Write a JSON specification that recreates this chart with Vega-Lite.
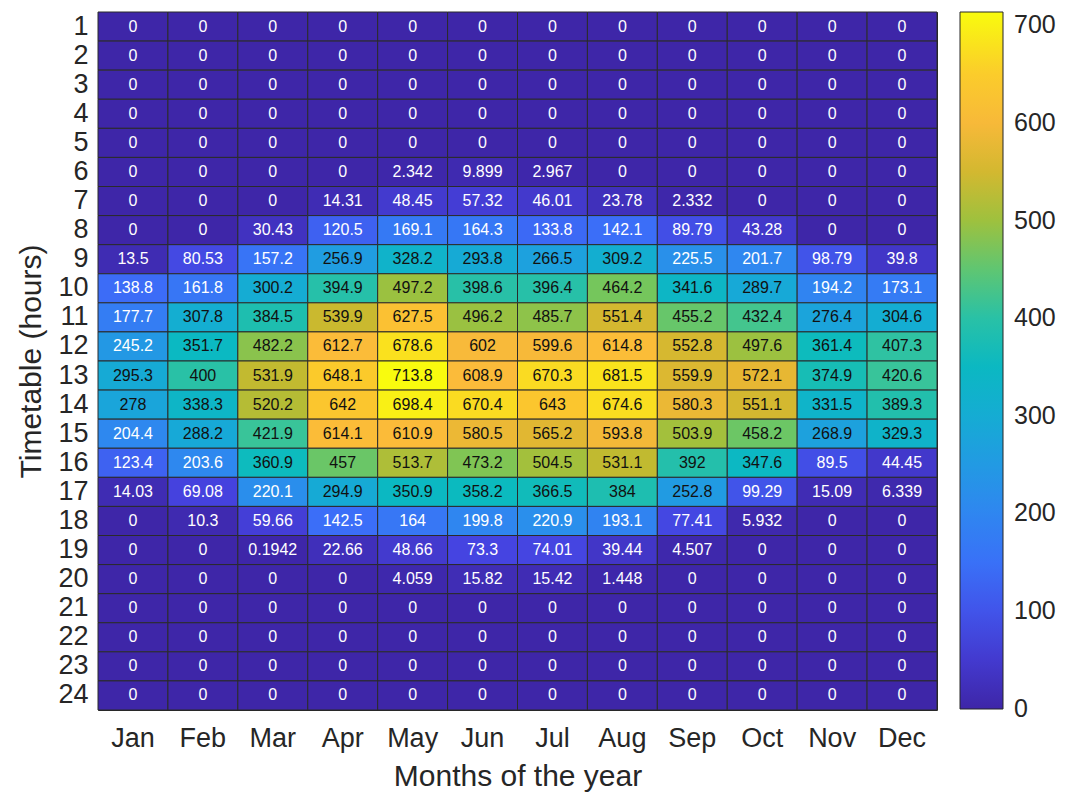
{
  "$schema": "https://vega.github.io/schema/vega-lite/v6.json",
  "width": 839,
  "height": 698,
  "autosize": {"type": "none"},
  "padding": {"left": 98, "top": 12, "right": 136, "bottom": 82},
  "background": "white",
  "config": {
    "font": "Liberation Sans",
    "view": {"stroke": "#262626", "strokeWidth": 1}
  },
  "data": {
    "values": [
      {"h":1,"m":"Jan","v":0},{"h":1,"m":"Feb","v":0},{"h":1,"m":"Mar","v":0},{"h":1,"m":"Apr","v":0},{"h":1,"m":"May","v":0},{"h":1,"m":"Jun","v":0},{"h":1,"m":"Jul","v":0},{"h":1,"m":"Aug","v":0},{"h":1,"m":"Sep","v":0},{"h":1,"m":"Oct","v":0},{"h":1,"m":"Nov","v":0},{"h":1,"m":"Dec","v":0},
      {"h":2,"m":"Jan","v":0},{"h":2,"m":"Feb","v":0},{"h":2,"m":"Mar","v":0},{"h":2,"m":"Apr","v":0},{"h":2,"m":"May","v":0},{"h":2,"m":"Jun","v":0},{"h":2,"m":"Jul","v":0},{"h":2,"m":"Aug","v":0},{"h":2,"m":"Sep","v":0},{"h":2,"m":"Oct","v":0},{"h":2,"m":"Nov","v":0},{"h":2,"m":"Dec","v":0},
      {"h":3,"m":"Jan","v":0},{"h":3,"m":"Feb","v":0},{"h":3,"m":"Mar","v":0},{"h":3,"m":"Apr","v":0},{"h":3,"m":"May","v":0},{"h":3,"m":"Jun","v":0},{"h":3,"m":"Jul","v":0},{"h":3,"m":"Aug","v":0},{"h":3,"m":"Sep","v":0},{"h":3,"m":"Oct","v":0},{"h":3,"m":"Nov","v":0},{"h":3,"m":"Dec","v":0},
      {"h":4,"m":"Jan","v":0},{"h":4,"m":"Feb","v":0},{"h":4,"m":"Mar","v":0},{"h":4,"m":"Apr","v":0},{"h":4,"m":"May","v":0},{"h":4,"m":"Jun","v":0},{"h":4,"m":"Jul","v":0},{"h":4,"m":"Aug","v":0},{"h":4,"m":"Sep","v":0},{"h":4,"m":"Oct","v":0},{"h":4,"m":"Nov","v":0},{"h":4,"m":"Dec","v":0},
      {"h":5,"m":"Jan","v":0},{"h":5,"m":"Feb","v":0},{"h":5,"m":"Mar","v":0},{"h":5,"m":"Apr","v":0},{"h":5,"m":"May","v":0},{"h":5,"m":"Jun","v":0},{"h":5,"m":"Jul","v":0},{"h":5,"m":"Aug","v":0},{"h":5,"m":"Sep","v":0},{"h":5,"m":"Oct","v":0},{"h":5,"m":"Nov","v":0},{"h":5,"m":"Dec","v":0},
      {"h":6,"m":"Jan","v":0},{"h":6,"m":"Feb","v":0},{"h":6,"m":"Mar","v":0},{"h":6,"m":"Apr","v":0},{"h":6,"m":"May","v":2.342},{"h":6,"m":"Jun","v":9.899},{"h":6,"m":"Jul","v":2.967},{"h":6,"m":"Aug","v":0},{"h":6,"m":"Sep","v":0},{"h":6,"m":"Oct","v":0},{"h":6,"m":"Nov","v":0},{"h":6,"m":"Dec","v":0},
      {"h":7,"m":"Jan","v":0},{"h":7,"m":"Feb","v":0},{"h":7,"m":"Mar","v":0},{"h":7,"m":"Apr","v":14.31},{"h":7,"m":"May","v":48.45},{"h":7,"m":"Jun","v":57.32},{"h":7,"m":"Jul","v":46.01},{"h":7,"m":"Aug","v":23.78},{"h":7,"m":"Sep","v":2.332},{"h":7,"m":"Oct","v":0},{"h":7,"m":"Nov","v":0},{"h":7,"m":"Dec","v":0},
      {"h":8,"m":"Jan","v":0},{"h":8,"m":"Feb","v":0},{"h":8,"m":"Mar","v":30.43},{"h":8,"m":"Apr","v":120.5},{"h":8,"m":"May","v":169.1},{"h":8,"m":"Jun","v":164.3},{"h":8,"m":"Jul","v":133.8},{"h":8,"m":"Aug","v":142.1},{"h":8,"m":"Sep","v":89.79},{"h":8,"m":"Oct","v":43.28},{"h":8,"m":"Nov","v":0},{"h":8,"m":"Dec","v":0},
      {"h":9,"m":"Jan","v":13.5},{"h":9,"m":"Feb","v":80.53},{"h":9,"m":"Mar","v":157.2},{"h":9,"m":"Apr","v":256.9},{"h":9,"m":"May","v":328.2},{"h":9,"m":"Jun","v":293.8},{"h":9,"m":"Jul","v":266.5},{"h":9,"m":"Aug","v":309.2},{"h":9,"m":"Sep","v":225.5},{"h":9,"m":"Oct","v":201.7},{"h":9,"m":"Nov","v":98.79},{"h":9,"m":"Dec","v":39.8},
      {"h":10,"m":"Jan","v":138.8},{"h":10,"m":"Feb","v":161.8},{"h":10,"m":"Mar","v":300.2},{"h":10,"m":"Apr","v":394.9},{"h":10,"m":"May","v":497.2},{"h":10,"m":"Jun","v":398.6},{"h":10,"m":"Jul","v":396.4},{"h":10,"m":"Aug","v":464.2},{"h":10,"m":"Sep","v":341.6},{"h":10,"m":"Oct","v":289.7},{"h":10,"m":"Nov","v":194.2},{"h":10,"m":"Dec","v":173.1},
      {"h":11,"m":"Jan","v":177.7},{"h":11,"m":"Feb","v":307.8},{"h":11,"m":"Mar","v":384.5},{"h":11,"m":"Apr","v":539.9},{"h":11,"m":"May","v":627.5},{"h":11,"m":"Jun","v":496.2},{"h":11,"m":"Jul","v":485.7},{"h":11,"m":"Aug","v":551.4},{"h":11,"m":"Sep","v":455.2},{"h":11,"m":"Oct","v":432.4},{"h":11,"m":"Nov","v":276.4},{"h":11,"m":"Dec","v":304.6},
      {"h":12,"m":"Jan","v":245.2},{"h":12,"m":"Feb","v":351.7},{"h":12,"m":"Mar","v":482.2},{"h":12,"m":"Apr","v":612.7},{"h":12,"m":"May","v":678.6},{"h":12,"m":"Jun","v":602},{"h":12,"m":"Jul","v":599.6},{"h":12,"m":"Aug","v":614.8},{"h":12,"m":"Sep","v":552.8},{"h":12,"m":"Oct","v":497.6},{"h":12,"m":"Nov","v":361.4},{"h":12,"m":"Dec","v":407.3},
      {"h":13,"m":"Jan","v":295.3},{"h":13,"m":"Feb","v":400},{"h":13,"m":"Mar","v":531.9},{"h":13,"m":"Apr","v":648.1},{"h":13,"m":"May","v":713.8},{"h":13,"m":"Jun","v":608.9},{"h":13,"m":"Jul","v":670.3},{"h":13,"m":"Aug","v":681.5},{"h":13,"m":"Sep","v":559.9},{"h":13,"m":"Oct","v":572.1},{"h":13,"m":"Nov","v":374.9},{"h":13,"m":"Dec","v":420.6},
      {"h":14,"m":"Jan","v":278},{"h":14,"m":"Feb","v":338.3},{"h":14,"m":"Mar","v":520.2},{"h":14,"m":"Apr","v":642},{"h":14,"m":"May","v":698.4},{"h":14,"m":"Jun","v":670.4},{"h":14,"m":"Jul","v":643},{"h":14,"m":"Aug","v":674.6},{"h":14,"m":"Sep","v":580.3},{"h":14,"m":"Oct","v":551.1},{"h":14,"m":"Nov","v":331.5},{"h":14,"m":"Dec","v":389.3},
      {"h":15,"m":"Jan","v":204.4},{"h":15,"m":"Feb","v":288.2},{"h":15,"m":"Mar","v":421.9},{"h":15,"m":"Apr","v":614.1},{"h":15,"m":"May","v":610.9},{"h":15,"m":"Jun","v":580.5},{"h":15,"m":"Jul","v":565.2},{"h":15,"m":"Aug","v":593.8},{"h":15,"m":"Sep","v":503.9},{"h":15,"m":"Oct","v":458.2},{"h":15,"m":"Nov","v":268.9},{"h":15,"m":"Dec","v":329.3},
      {"h":16,"m":"Jan","v":123.4},{"h":16,"m":"Feb","v":203.6},{"h":16,"m":"Mar","v":360.9},{"h":16,"m":"Apr","v":457},{"h":16,"m":"May","v":513.7},{"h":16,"m":"Jun","v":473.2},{"h":16,"m":"Jul","v":504.5},{"h":16,"m":"Aug","v":531.1},{"h":16,"m":"Sep","v":392},{"h":16,"m":"Oct","v":347.6},{"h":16,"m":"Nov","v":89.5},{"h":16,"m":"Dec","v":44.45},
      {"h":17,"m":"Jan","v":14.03},{"h":17,"m":"Feb","v":69.08},{"h":17,"m":"Mar","v":220.1},{"h":17,"m":"Apr","v":294.9},{"h":17,"m":"May","v":350.9},{"h":17,"m":"Jun","v":358.2},{"h":17,"m":"Jul","v":366.5},{"h":17,"m":"Aug","v":384},{"h":17,"m":"Sep","v":252.8},{"h":17,"m":"Oct","v":99.29},{"h":17,"m":"Nov","v":15.09},{"h":17,"m":"Dec","v":6.339},
      {"h":18,"m":"Jan","v":0},{"h":18,"m":"Feb","v":10.3},{"h":18,"m":"Mar","v":59.66},{"h":18,"m":"Apr","v":142.5},{"h":18,"m":"May","v":164},{"h":18,"m":"Jun","v":199.8},{"h":18,"m":"Jul","v":220.9},{"h":18,"m":"Aug","v":193.1},{"h":18,"m":"Sep","v":77.41},{"h":18,"m":"Oct","v":5.932},{"h":18,"m":"Nov","v":0},{"h":18,"m":"Dec","v":0},
      {"h":19,"m":"Jan","v":0},{"h":19,"m":"Feb","v":0},{"h":19,"m":"Mar","v":0.1942},{"h":19,"m":"Apr","v":22.66},{"h":19,"m":"May","v":48.66},{"h":19,"m":"Jun","v":73.3},{"h":19,"m":"Jul","v":74.01},{"h":19,"m":"Aug","v":39.44},{"h":19,"m":"Sep","v":4.507},{"h":19,"m":"Oct","v":0},{"h":19,"m":"Nov","v":0},{"h":19,"m":"Dec","v":0},
      {"h":20,"m":"Jan","v":0},{"h":20,"m":"Feb","v":0},{"h":20,"m":"Mar","v":0},{"h":20,"m":"Apr","v":0},{"h":20,"m":"May","v":4.059},{"h":20,"m":"Jun","v":15.82},{"h":20,"m":"Jul","v":15.42},{"h":20,"m":"Aug","v":1.448},{"h":20,"m":"Sep","v":0},{"h":20,"m":"Oct","v":0},{"h":20,"m":"Nov","v":0},{"h":20,"m":"Dec","v":0},
      {"h":21,"m":"Jan","v":0},{"h":21,"m":"Feb","v":0},{"h":21,"m":"Mar","v":0},{"h":21,"m":"Apr","v":0},{"h":21,"m":"May","v":0},{"h":21,"m":"Jun","v":0},{"h":21,"m":"Jul","v":0},{"h":21,"m":"Aug","v":0},{"h":21,"m":"Sep","v":0},{"h":21,"m":"Oct","v":0},{"h":21,"m":"Nov","v":0},{"h":21,"m":"Dec","v":0},
      {"h":22,"m":"Jan","v":0},{"h":22,"m":"Feb","v":0},{"h":22,"m":"Mar","v":0},{"h":22,"m":"Apr","v":0},{"h":22,"m":"May","v":0},{"h":22,"m":"Jun","v":0},{"h":22,"m":"Jul","v":0},{"h":22,"m":"Aug","v":0},{"h":22,"m":"Sep","v":0},{"h":22,"m":"Oct","v":0},{"h":22,"m":"Nov","v":0},{"h":22,"m":"Dec","v":0},
      {"h":23,"m":"Jan","v":0},{"h":23,"m":"Feb","v":0},{"h":23,"m":"Mar","v":0},{"h":23,"m":"Apr","v":0},{"h":23,"m":"May","v":0},{"h":23,"m":"Jun","v":0},{"h":23,"m":"Jul","v":0},{"h":23,"m":"Aug","v":0},{"h":23,"m":"Sep","v":0},{"h":23,"m":"Oct","v":0},{"h":23,"m":"Nov","v":0},{"h":23,"m":"Dec","v":0},
      {"h":24,"m":"Jan","v":0},{"h":24,"m":"Feb","v":0},{"h":24,"m":"Mar","v":0},{"h":24,"m":"Apr","v":0},{"h":24,"m":"May","v":0},{"h":24,"m":"Jun","v":0},{"h":24,"m":"Jul","v":0},{"h":24,"m":"Aug","v":0},{"h":24,"m":"Sep","v":0},{"h":24,"m":"Oct","v":0},{"h":24,"m":"Nov","v":0},{"h":24,"m":"Dec","v":0}
    ]
  },
  "encoding": {
    "x": {
      "field": "m",
      "type": "nominal",
      "sort": ["Jan","Feb","Mar","Apr","May","Jun","Jul","Aug","Sep","Oct","Nov","Dec"],
      "scale": {"paddingInner": 0, "paddingOuter": 0},
      "axis": {
        "title": "Months of the year",
        "labelAngle": 0,
        "ticks": false,
        "domain": false,
        "labelFontSize": 27,
        "labelColor": "#262626",
        "labelPadding": 15,
        "titleFontSize": 30,
        "titleFontWeight": "normal",
        "titleColor": "#262626",
        "titlePadding": 10
      }
    },
    "y": {
      "field": "h",
      "type": "ordinal",
      "scale": {"paddingInner": 0, "paddingOuter": 0},
      "axis": {
        "title": "Timetable (hours)",
        "ticks": false,
        "domain": false,
        "labelFontSize": 27,
        "labelColor": "#262626",
        "labelPadding": 10,
        "titleFontSize": 30,
        "titleFontWeight": "normal",
        "titleColor": "#262626",
        "titlePadding": 11
      }
    }
  },
  "layer": [
    {
      "mark": {"type": "rect", "stroke": "#2b2b2b", "strokeWidth": 1},
      "encoding": {
        "color": {
          "field": "v",
          "type": "quantitative",
          "scale": {
            "domain": [-0.5, 71.38, 142.76, 214.14, 285.52, 356.9, 428.28, 464, 499.66, 535.35, 571.04, 606.73, 642.42, 713.8],
            "range": ["#3e26a8", "#4543e0", "#3b6ef8", "#2c8cee", "#18a8d8", "#0abac0", "#3ec595", "#75c65c", "#9ec13e", "#c6b92e", "#e6b733", "#fbba3b", "#fbc62e", "#f9fb0e"],
            "interpolate": "rgb"
          },
          "legend": {
            "orient": "none",
            "legendX": 862,
            "legendY": 0,
            "direction": "vertical",
            "title": null,
            "gradientLength": 697,
            "gradientThickness": 43,
            "gradientStrokeColor": "#262626",
            "gradientStrokeWidth": 1,
            "values": [0, 100, 200, 300, 400, 500, 600, 700],
            "labelFontSize": 25,
            "labelColor": "#262626",
            "labelOffset": 11,
            "labelBaseline": "middle",
            "labelOverlap": false
          }
        }
      }
    },
    {
      "mark": {"type": "text", "fontSize": 16, "baseline": "middle", "align": "center"},
      "encoding": {
        "text": {"field": "v", "type": "quantitative", "format": ".4~g"},
        "color": {
          "condition": {"test": "datum.v < 250", "value": "#ffffff"},
          "value": "#111111"
        }
      }
    }
  ]
}
